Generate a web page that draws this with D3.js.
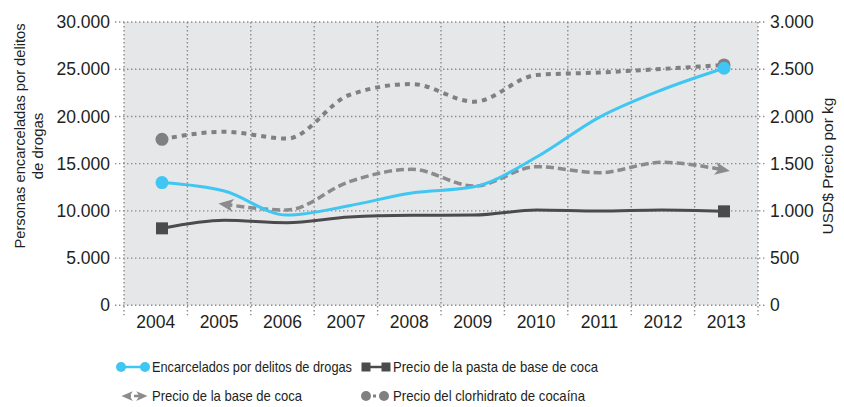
<!DOCTYPE html>
<html><head><meta charset="utf-8">
<script src="https://cdn.jsdelivr.net/npm/d3@7"></script>
<style>
body{margin:0;background:#fff;}
svg text{font-family:"Liberation Sans",Arial,sans-serif;fill:#231f20;}
</style></head>
<body><svg id="c" width="844" height="407"></svg>
<script>
const years = [2004,2005,2006,2007,2008,2009,2010,2011,2012,2013];
const encarcelados = [13000,12100,9550,10550,11900,12550,15700,19900,22800,25100];
const pastaBase = [815,900,875,935,953,955,1009,998,1010,995];
const baseCocaYears = [2005,2006,2007,2008,2009,2010,2011,2012,2013];
const baseCoca = [1070,1009,1309,1440,1263,1468,1404,1514,1433];
const clorhidrato = [1758,1838,1765,2227,2343,2156,2439,2465,2503,2545];
const leftTicks = [0,5000,10000,15000,20000,25000,30000];
const rightTicks = [0,500,1000,1500,2000,2500,3000];
const leftTitle = ["Personas encarceladas por delitos","de drogas"];
const rightTitle = "USD$ Precio por kg";
const legendLabels = ["Encarcelados por delitos de drogas","Precio de la pasta de base de coca","Precio de la base de coca","Precio del clorhidrato de cocaína"];

const C = {blue:"#3fc6f2", pasta:"#4b4b4d", base:"#8b8b8d", clor:"#808083", bg:"#e6e7e9", grid:"#8a8a8a"};
const svg = d3.select("#c");
const L=124, R=758, T=22, B=305.3;
const locale = d3.formatLocale({decimal:",",thousands:".",grouping:[3],currency:["",""]});
const fmt = locale.format(",");

const xBand = d3.scaleBand().domain(years).range([L,R]);
const x = d3.scalePoint().domain(years).range([162,724]);
const yL = d3.scaleLinear().domain([0,30000]).range([B,T]);
const yR = d3.scaleLinear().domain([0,3000]).range([B,T]);

svg.append("rect").attr("x",L).attr("y",T).attr("width",R-L).attr("height",B-T).attr("fill",C.bg);

// grid
const g = svg.append("g").attr("stroke",C.grid).attr("stroke-width",1.4).attr("stroke-dasharray","1.4,2.6");
g.selectAll(".h").data(leftTicks).join("line")
  .attr("x1",115).attr("x2",766).attr("y1",d=>yL(d)).attr("y2",d=>yL(d));
const vx = years.map(d=>xBand(d)).concat([R]);
g.selectAll(".v").data(vx).join("line")
  .attr("x1",d=>d).attr("x2",d=>d).attr("y1",T).attr("y2",B+10);

// axes
const axL = svg.append("g").attr("transform",`translate(${L},0)`)
  .call(d3.axisLeft(yL).tickValues(leftTicks).tickFormat(fmt).tickSize(0).tickPadding(14));
const axR = svg.append("g").attr("transform",`translate(${R},0)`)
  .call(d3.axisRight(yR).tickValues(rightTicks).tickFormat(fmt).tickSize(0).tickPadding(12));
const axB = svg.append("g").attr("transform",`translate(0,${B})`)
  .call(d3.axisBottom(xBand).tickSize(0).tickPadding(10));
[axL,axR,axB].forEach(a=>{a.select(".domain").remove();a.selectAll("text").attr("font-size",17.5).attr("fill","#231f20").attr("font-family","Liberation Sans, Arial, sans-serif");});

// axis titles
svg.append("text").attr("transform","translate(25,136) rotate(-90)").attr("text-anchor","middle").attr("font-size",15)
  .attr("textLength",225).attr("lengthAdjust","spacingAndGlyphs").text(leftTitle[0]);
svg.append("text").attr("transform","translate(43,146) rotate(-90)").attr("text-anchor","middle").attr("font-size",15).text(leftTitle[1]);
svg.append("text").attr("transform","translate(833,166) rotate(-90)").attr("text-anchor","middle").attr("font-size",15.5).text(rightTitle);

// markers
const defs = svg.append("defs");
defs.append("marker").attr("id","arr").attr("markerUnits","userSpaceOnUse")
  .attr("viewBox","-10 -8 18 16").attr("refX",0).attr("refY",0)
  .attr("markerWidth",18).attr("markerHeight",16).attr("orient","auto-start-reverse")
  .append("path").attr("d","M-9,-6.5 L6,0 L-9,6.5 L-5,0 Z").attr("fill",C.base);
defs.append("marker").attr("id","arrS").attr("markerUnits","userSpaceOnUse")
  .attr("viewBox","-10 -8 18 16").attr("refX",0).attr("refY",0)
  .attr("markerWidth",14).attr("markerHeight",12).attr("orient","auto-start-reverse")
  .append("path").attr("d","M-9,-6.5 L6,0 L-9,6.5 L-5,0 Z").attr("fill",C.base);

const curve = d3.curveMonotoneX;
// clorhidrato
const lineR = d3.line().curve(curve).x((d,i)=>x(years[i])).y(d=>yR(d));
svg.append("path").datum(clorhidrato).attr("d",lineR).attr("fill","none")
  .attr("stroke",C.clor).attr("stroke-width",4).attr("stroke-dasharray","5,5");
svg.selectAll(".cm").data([0,9]).join("circle").attr("cx",i=>x(years[i])).attr("cy",i=>yR(clorhidrato[i])).attr("r",6.5).attr("fill",C.clor);

// base de coca
const lineB = d3.line().curve(curve).x((d,i)=>x(baseCocaYears[i])).y(d=>yR(d));
svg.append("path").datum(baseCoca).attr("d",lineB).attr("fill","none")
  .attr("stroke",C.base).attr("stroke-width",3.5).attr("stroke-dasharray","8,4")
  .attr("marker-start","url(#arr)").attr("marker-end","url(#arr)");

// pasta base
svg.append("path").datum(pastaBase).attr("d",lineR).attr("fill","none")
  .attr("stroke",C.pasta).attr("stroke-width",3);
svg.selectAll(".pm").data([0,9]).join("rect").attr("x",i=>x(years[i])-6).attr("y",i=>yR(pastaBase[i])-6).attr("width",12).attr("height",12).attr("fill",C.pasta);

// encarcelados
const lineL = d3.line().curve(curve).x((d,i)=>x(years[i])).y(d=>yL(d));
svg.append("path").datum(encarcelados).attr("d",lineL).attr("fill","none")
  .attr("stroke",C.blue).attr("stroke-width",3);
svg.selectAll(".em").data([0,9]).join("circle").attr("cx",i=>x(years[i])).attr("cy",i=>yL(encarcelados[i])).attr("r",6.5).attr("fill",C.blue);

// legend
const lg = svg.append("g").attr("font-size",14.5);
const rows=[367,396], cols=[121,366];
lg.append("line").attr("x1",cols[0]).attr("x2",cols[0]+24).attr("y1",rows[0]).attr("y2",rows[0]).attr("stroke",C.blue).attr("stroke-width",2.5);
lg.selectAll(".l1").data([0,24]).join("circle").attr("cx",d=>cols[0]+d).attr("cy",rows[0]).attr("r",5).attr("fill",C.blue);
lg.append("line").attr("x1",cols[1]).attr("x2",cols[1]+20).attr("y1",rows[0]).attr("y2",rows[0]).attr("stroke",C.pasta).attr("stroke-width",2.5);
lg.selectAll(".l2").data([0,20]).join("rect").attr("x",d=>cols[1]+d-4.5).attr("y",rows[0]-4.5).attr("width",9).attr("height",9).attr("fill",C.pasta);
lg.append("line").attr("x1",cols[0]+5).attr("x2",cols[0]+22).attr("y1",rows[1]).attr("y2",rows[1]).attr("stroke",C.base).attr("stroke-width",2.5).attr("stroke-dasharray","5,3")
  .attr("marker-start","url(#arrS)").attr("marker-end","url(#arrS)");
lg.append("line").attr("x1",cols[1]).attr("x2",cols[1]+18).attr("y1",rows[1]).attr("y2",rows[1]).attr("stroke",C.clor).attr("stroke-width",3).attr("stroke-dasharray","3,4");
lg.selectAll(".l4").data([0,18]).join("circle").attr("cx",d=>cols[1]+d).attr("cy",rows[1]).attr("r",5).attr("fill",C.clor);

const lx=[152,393], lw=[200,205,150,192];
[[0,0],[1,1],[2,0],[3,1]].forEach((p,i)=>{
  lg.append("text").attr("x",lx[p[1]]).attr("y",rows[Math.floor(i/2)]).attr("dy","0.35em")
    .attr("textLength",lw[i]).attr("lengthAdjust","spacingAndGlyphs").text(legendLabels[i]);
});
</script></body></html>
